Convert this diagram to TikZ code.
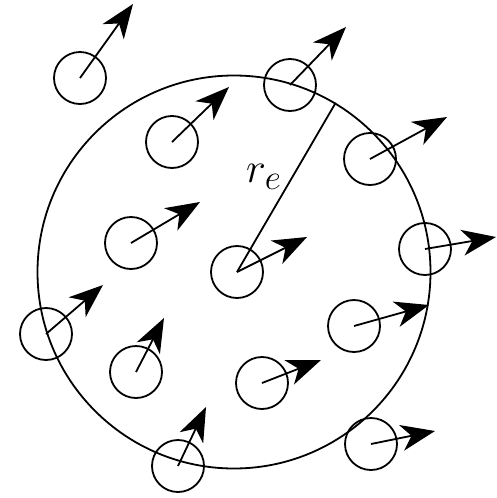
\documentclass[tikz,border=0pt]{standalone}
\usetikzlibrary{arrows.meta}

\begin{document}
\begin{tikzpicture}[x=1pt, y=-1pt, line width=1.8pt,
    particle/.style={draw, circle, minimum size=52pt, inner sep=0pt},
    spin/.style={-{Stealth[length=34pt, width=26pt, inset=10pt]}}]
	\useasboundingbox (0,0) rectangle (497,498);
	\node[draw, circle, minimum size=393pt, inner sep=0pt] (halo) at (234,272) {};
	% particles
	\node[particle] (p1) at (80,78) {};
	\node[particle] (p2) at (172,142) {};
	\node[particle] (p3) at (131,243) {};
	\node[particle] (p4) at (290,85) {};
	\node[particle] (p5) at (370,159) {};
	\node[particle] (p6) at (237,272) {};
	\node[particle] (p7) at (425,249) {};
	\node[particle] (p8) at (354,326) {};
	\node[particle] (p9) at (46,334) {};
	\node[particle] (p10) at (136,372) {};
	\node[particle] (p11) at (262,383) {};
	\node[particle] (p12) at (178,466) {};
	\node[particle] (p13) at (371,444) {};
	% spin directions
	\coordinate (t1) at (133,4);
	\coordinate (t2) at (229,87);
	\coordinate (t3) at (200,202);
	\coordinate (t4) at (346,27);
	\coordinate (t5) at (447,117);
	\coordinate (t6) at (307,237);
	\coordinate (t7) at (496,237);
	\coordinate (t8) at (429,305);
	\coordinate (t9) at (103,285);
	\coordinate (t10) at (164,318);
	\coordinate (t11) at (321,360);
	\coordinate (t12) at (206,407);
	\coordinate (t13) at (435,431);
	\foreach \i in {1,...,13}
		\draw[spin] (p\i.center) -- (t\i);
	% radius
	\draw (p6.center) -- (halo.59.4);
	\node[font=\Huge, scale=1.7] (re) at (264,177) {$r_e$};
\end{tikzpicture}
\end{document}
